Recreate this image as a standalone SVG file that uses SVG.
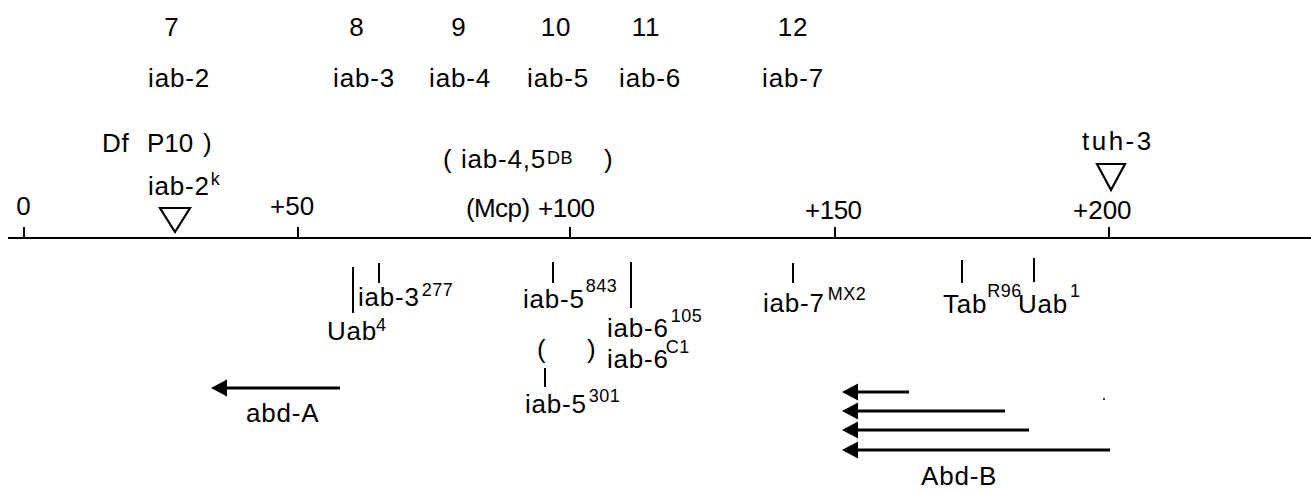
<svg xmlns="http://www.w3.org/2000/svg" width="1311" height="491" viewBox="0 0 1311 491">
<style>
text{font-family:"Liberation Sans",Arial,sans-serif;font-size:26px;fill:#000;letter-spacing:0.8px}
.m{text-anchor:middle}
.s{font-size:18px;letter-spacing:0.5px}
.ln{stroke:#000;stroke-width:2;fill:none}
.ar{stroke:#000;stroke-width:3;fill:none}
.tri{stroke:#000;stroke-width:2.2;fill:#fff;stroke-linejoin:miter}
</style>
<defs>
<marker id="ah" markerWidth="5.4" markerHeight="6" refX="0" refY="3" orient="auto" markerUnits="strokeWidth">
<path d="M0,0.2 L5.4,3 L0,5.8 Z" fill="#000"/>
</marker>
</defs>
<rect width="1311" height="491" fill="#fff"/>

<g id="segments">
<text class="m" x="172" y="36">7</text>
<text class="m" x="357" y="36">8</text>
<text class="m" x="459" y="36">9</text>
<text class="m" x="556" y="36">10</text>
<text class="m" x="646" y="36">11</text>
<text class="m" x="793" y="36">12</text>
<text class="m" x="179" y="87">iab-2</text>
<text class="m" x="364" y="87">iab-3</text>
<text class="m" x="460" y="87">iab-4</text>
<text class="m" x="558" y="87">iab-5</text>
<text class="m" x="650" y="87">iab-6</text>
<text class="m" x="793" y="87">iab-7</text>
</g>

<g id="axis">
<line class="ln" x1="8" y1="238" x2="1311" y2="238"/>
<line class="ln" x1="24" y1="227" x2="24" y2="238"/>
<line class="ln" x1="298" y1="227" x2="298" y2="238"/>
<line class="ln" x1="570" y1="227" x2="570" y2="238"/>
<line class="ln" x1="835" y1="227" x2="835" y2="238"/>
<line class="ln" x1="1109" y1="227" x2="1109" y2="238"/>
<text class="m" x="24" y="215">0</text>
<text x="270" y="215" style="letter-spacing:0">+50</text>
<text x="538" y="217" style="letter-spacing:-0.5px">+100</text>
<text x="805" y="219" style="letter-spacing:-0.5px">+150</text>
<text x="1073" y="219" style="letter-spacing:0">+200</text>
</g>

<g id="dfp10">
<text x="102" y="152">Df</text>
<text x="147" y="152" style="letter-spacing:0">P10</text>
<text x="203" y="152">)</text>
</g>

<g id="iab2k">
<text x="148" y="195">iab-2<tspan class="s" dx="1" dy="-10">k</tspan></text>
<polygon class="tri" points="160,208 190,208 175,232"/>
</g>

<g id="iab45DB">
<text x="443" y="168">(</text>
<text x="461" y="168">iab-4,5<tspan class="s" dx="1" dy="-4">DB</tspan></text>
<text x="604" y="168">)</text>
<text x="466" y="217" style="letter-spacing:-0.6px">(Mcp)</text>
</g>

<g id="tuh3">
<text x="1082" y="150" textLength="70">tuh-3</text>
<polygon class="tri" points="1097,164 1125,164 1111,190"/>
</g>

<g id="iab3-277">
<line class="ln" x1="379" y1="263" x2="379" y2="283"/>
<text x="358" y="306">iab-3<tspan class="s" dx="2" dy="-10">277</tspan></text>
</g>

<g id="Uab4">
<line class="ln" x1="353" y1="267" x2="353" y2="313"/>
<text x="327" y="340">Uab<tspan class="s" dx="-1" dy="-9">4</tspan></text>
</g>

<g id="iab5-843">
<line class="ln" x1="553" y1="262" x2="553" y2="283"/>
<text x="523" y="308">iab-5<tspan class="s" dx="1" dy="-16">843</tspan></text>
</g>

<g id="iab6-105">
<line class="ln" x1="631" y1="262" x2="631" y2="308"/>
<text x="607" y="337">iab-6<tspan class="s" dx="2" dy="-15">105</tspan></text>
</g>

<g id="iab6-C1">
<text x="537" y="358">(</text>
<text x="587" y="358">)</text>
<text x="607" y="368">iab-6<tspan class="s" dx="-3" dy="-15">C1</tspan></text>
</g>

<g id="iab5-301">
<line class="ln" x1="545" y1="368" x2="545" y2="387"/>
<text x="525" y="413">iab-5<tspan class="s" dx="2" dy="-11">301</tspan></text>
</g>

<g id="iab7-MX2">
<line class="ln" x1="793" y1="263" x2="793" y2="283"/>
<text x="763" y="312">iab-7<tspan class="s" dx="3" dy="-12">MX2</tspan></text>
</g>

<g id="TabR96">
<line class="ln" x1="962" y1="260" x2="962" y2="283"/>
<text x="943" y="313">Tab<tspan class="s" dx="0" dy="-16">R96</tspan></text>
</g>

<g id="Uab1">
<line class="ln" x1="1034" y1="258" x2="1034" y2="282"/>
<text x="1018" y="313">Uab<tspan class="s" dx="2" dy="-16">1</tspan></text>
</g>

<g id="connectors">
<line class="ar" x1="340" y1="388" x2="227" y2="388" marker-end="url(#ah)"/>
<line class="ar" x1="909" y1="392" x2="858" y2="392" marker-end="url(#ah)"/>
<line class="ar" x1="1005" y1="411" x2="858" y2="411" marker-end="url(#ah)"/>
<line class="ar" x1="1029" y1="430" x2="858" y2="430" marker-end="url(#ah)"/>
<line class="ar" x1="1110" y1="450" x2="858" y2="450" marker-end="url(#ah)"/>
</g>

<g id="abdA">
<text x="246" y="422">abd-A</text>
</g>
<g id="AbdB">
<text x="921" y="485">Abd-B</text>
</g>
<circle cx="1104" cy="399" r="1" fill="#000"/>
</svg>
